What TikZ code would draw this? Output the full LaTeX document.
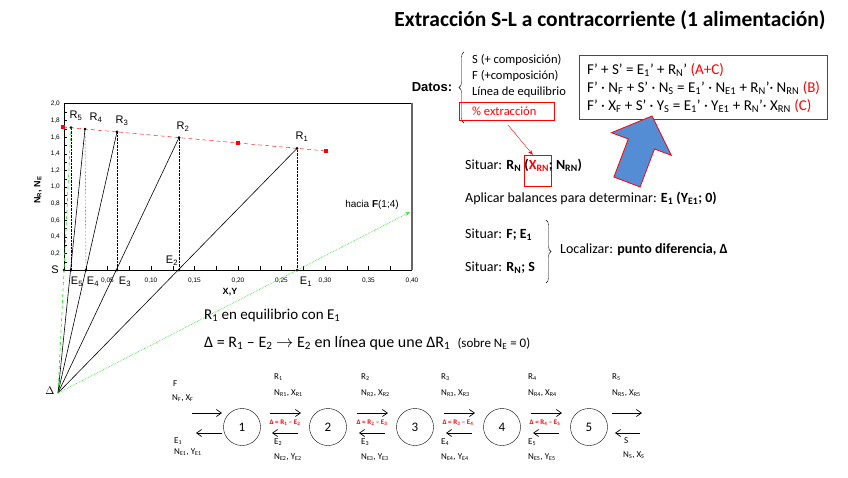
\documentclass[tikz,border=0pt]{standalone}
\usepackage{fontspec}
\setmainfont{Carlito}
\newfontfamily\arialf{Liberation Sans}
\usetikzlibrary{arrows.meta,decorations.pathreplacing}
\newcommand\sbs[1]{\textsubscript{#1}}
\definecolor{mygreen}{RGB}{60,225,60}
\definecolor{myblue}{RGB}{84,141,212}
\begin{document}
\begin{tikzpicture}[x=1pt,y=-1pt,
  lab/.style={inner sep=0pt,anchor=west},
  plab/.style={inner sep=0pt,font=\arialf\fontsize{11}{12}\selectfont},
  tick/.style={font=\arialf\fontsize{6.5}{7}\selectfont,inner sep=0pt},
  dot/.style={circle,fill=black,inner sep=0pt,minimum size=3pt},
  rsq/.style={fill=red,inner sep=0pt,minimum size=4pt},
  txt/.style={inner sep=0pt,anchor=west,font=\fontsize{14}{16}\selectfont},
  dtx/.style={inner sep=0pt,anchor=west,font=\fontsize{12.5}{14}\selectfont},
  eqt/.style={inner sep=0pt,anchor=west,font=\fontsize{15}{17}\selectfont},
  stg/.style={circle,draw,minimum size=37pt,inner sep=0pt,font=\fontsize{13}{14}\selectfont},
  slab/.style={inner sep=0pt,anchor=west,font=\fontsize{9}{10}\selectfont},
  dlab/.style={inner sep=0pt,text=red,font=\bfseries\fontsize{7}{8}\selectfont},
  flow/.style={-{Straight Barb[length=5pt,width=7pt]},line width=0.7pt},
  brc/.style={decorate,decoration={brace,amplitude=5pt}}
]
\useasboundingbox (0,0) rectangle (848,477);

% ---------- plot ----------
\draw[line width=0.8pt] (64,103) -- (412,103);
\draw[line width=1.2pt,black!60] (412,103) -- (412,270);
\draw[line width=0.8pt] (64,103) -- (64,270) -- (412,270);
\foreach \i in {1,...,15} \draw (64+\i*21.75,270) -- ++(0,-4);
\foreach \i in {1,...,19} \draw (64,270-\i*8.3) -- ++(3,0);
\foreach \v/\t in {0.2/{0,2},0.4/{0,4},0.6/{0,6},0.8/{0,8},1.0/{1,0},1.2/{1,2},1.4/{1,4},1.6/{1,6},1.8/{1,8},2.0/{2,0}}
  \node[tick,anchor=east] at (60,270-83*\v) {\t};
\foreach \v/\t in {0.05/{0,05},0.10/{0,10},0.15/{0,15},0.20/{0,20},0.25/{0,25},0.30/{0,30},0.35/{0,35},0.40/{0,40}}
  \node[tick] at (64+870*\v,281) {\t};
\node[plab,rotate=90,font=\arialf\bfseries\fontsize{9}{10}\selectfont] (yax) at (38,190) {N\sbs{R}, N\sbs{E}};
\node[plab,font=\arialf\bfseries\fontsize{9}{10}\selectfont] (xax) at (230,292) {X,Y};

% equilibrium (raffinate) line
\draw[red,dash pattern=on 4pt off 3pt] (63,127) -- (326,151);
\node[rsq] (q1) at (63,127) {};
\node[rsq] (q2) at (238,143) {};
\node[rsq] (q3) at (326,151) {};

% points
\coordinate (D) at (58,393);
\node[dot] (R5) at (71,127.7) {};
\node[dot] (R4) at (85,129) {};
\node[dot] (R3) at (117,131.9) {};
\node[dot] (R2) at (179,137.6) {};
\node[dot] (R1) at (297,148.4) {};
\node[dot] (S) at (64,270) {};
\node[dot] (E5) at (71,270) {};
\node[dot] (E4) at (86,270) {};
\node[dot] (E3) at (117,270) {};
\node[dot] (E2) at (179,270) {};
\node[dot] (E1) at (297,270) {};
\coordinate (F) at (410,212);

\foreach \r/\e in {R5/E5,R4/E4,R3/E3,R2/E2,R1/E1}
  \draw[densely dotted] (\r.center) -- (\e.center);
\foreach \r in {R4,R3,R2,R1}
  \draw[line width=0.6pt] (D) -- (\r.center);
\draw[mygreen,dashed,line width=0.7pt] (D) -- (R5.center);
\draw[mygreen,densely dotted,line width=0.7pt,-{Stealth[length=5pt]}] (D) -- (F);

\node[plab] (lR5) at (76,116) {R\sbs{5}};
\node[plab] (lR4) at (96,118) {R\sbs{4}};
\node[plab] (lR3) at (122,121) {R\sbs{3}};
\node[plab] (lR2) at (183,127) {R\sbs{2}};
\node[plab] (lR1) at (302,137) {R\sbs{1}};
\node[plab] (lE5) at (77,282) {E\sbs{5}};
\node[plab] (lE4) at (93,282) {E\sbs{4}};
\node[plab] (lE3) at (125,282) {E\sbs{3}};
\node[plab] (lE2) at (172,261) {E\sbs{2}};
\node[plab] (lE1) at (306,282) {E\sbs{1}};
\node[plab] (lS) at (55,270) {S};
\node[plab] (lD) at (50,391) {$\Delta$};
\node[plab,font=\arialf\fontsize{10}{12}\selectfont] (lF) at (372,205) {hacia \textbf{F}(1;4)};

% ---------- title ----------
\node[inner sep=0pt,font=\bfseries\fontsize{21.5}{24}\selectfont] (title) at (610,20) {Extracción S-L a contracorriente (1 alimentación)};

% ---------- datos ----------
\node[inner sep=0pt,font=\arialf\bfseries\fontsize{13}{14}\selectfont] (datos) at (432,87) {Datos:};
\draw[brc] (464,123) -- (464,52);
\node[dtx] (d1) at (472,60) {S (+ composición)};
\node[dtx] (d2) at (472,76) {F (+composición)};
\node[dtx] (d3) at (472,92) {Línea de equilibrio};
\node[dtx,text=red] (d4) at (472,111) {\% extracción};
\draw[red] (459,102) rectangle (554,120);
\coordinate (ra) at (508,125);
\node[draw=red,inner sep=0pt,minimum width=27pt,minimum height=31pt] (xbox) at (537.5,170.5) {};
\draw[red,-{Stealth[length=5pt]}] (ra) -- ([xshift=9pt]xbox.north west);

% ---------- equations ----------
\node[draw=red,inner sep=0pt,minimum width=248pt,minimum height=64pt] (eqbox) at (703,87) {};
\node[eqt] (eq1) at (587,70) {F’ + S’ = E\sbs{1}’ + R\sbs{N}’ {\color{red}(A+C)}};
\node[eqt] (eq2) at (587,88) {F’ · N\sbs{F} + S’ · N\sbs{S} = E\sbs{1}’ · N\sbs{E1} + R\sbs{N}’· N\sbs{RN} {\color{red}(B)}};
\node[eqt] (eq3) at (587,106) {F’ · X\sbs{F} + S’ · Y\sbs{S} = E\sbs{1}’ · Y\sbs{E1} + R\sbs{N}’· X\sbs{RN} {\color{red}(C)}};

% blue arrow
\draw[red,fill=myblue,line width=0.8pt] (613.9,177) -- (628.3,139) -- (611.5,132.7) -- (652,116) -- (671.3,155.3) -- (654.5,149) -- (640.1,187) -- cycle;

% ---------- situar ----------
\node[txt] (s1) at (465,165) {Situar: \textbf{R\sbs{N}} \textbf{(}{\color{red}\textbf{X\sbs{RN}}}\textbf{; N\sbs{RN})}};
\node[txt] (s2) at (465,198) {Aplicar balances para determinar: \textbf{E\sbs{1} (Y\sbs{E1}; 0)}};
\node[txt] (s3) at (465,235) {Situar: \textbf{F; E\sbs{1}}};
\node[txt] (s4) at (465,268) {Situar: \textbf{R\sbs{N}; S}};
\draw[brc] (546,220) -- (546,283);
\node[txt] (s5) at (560,250) {Localizar: \textbf{punto diferencia, Δ}};

% ---------- middle ----------
\node[txt,font=\fontsize{15}{17}\selectfont] (m1) at (204,315) {R\sbs{1} en equilibrio con E\sbs{1}};
\node[txt,font=\fontsize{16}{18}\selectfont] (m2) at (204,343) {Δ = R\sbs{1} – E\sbs{2} $\rightarrow$ E\sbs{2} en línea que une ΔR\sbs{1}\ \ {\fontsize{13}{15}\selectfont(sobre N\sbs{E} = 0)}};

% ---------- stages ----------
\node[stg] (c1) at (242,427) {1};
\node[stg] (c2) at (328,427) {2};
\node[stg] (c3) at (415,427) {3};
\node[stg] (c4) at (502,427) {4};
\node[stg] (c5) at (589,427) {5};

\coordinate (a0s) at (192,413); \coordinate (a0e) at (222,413);
\coordinate (b0s) at (222,433); \coordinate (b0e) at (196,433);
\draw[flow] (a0s) -- (a0e);
\draw[flow] (b0s) -- (b0e);
\foreach \x/\n in {270/1,357/2,444/3,531/4}{
  \draw[flow] (\x,413) -- (\x+31,413);
  \draw[flow] (\x+28,433) -- (\x+2,433);
}
\coordinate (a6s) at (612,413); \coordinate (a6e) at (642,413);
\coordinate (b6s) at (640,433); \coordinate (b6e) at (615,433);
\draw[flow] (a6s) -- (a6e);
\draw[flow] (b6s) -- (b6e);

\node[dlab] (d12) at (285,423) {Δ = R\sbs{1} – E\sbs{2}};
\node[dlab] (d23) at (372,423) {Δ = R\sbs{2} – E\sbs{3}};
\node[dlab] (d34) at (458,423) {Δ = R\sbs{3} – E\sbs{4}};
\node[dlab] (d45) at (545,423) {Δ = R\sbs{4} – E\sbs{5}};

\node[slab] (tF) at (173,384) {F};
\node[slab] (tF2) at (172,398) {N\sbs{F}, X\sbs{F}};
\node[slab] (tE1) at (174,441) {E\sbs{1}};
\node[slab] (tE12) at (174,452) {N\sbs{E1}, Y\sbs{E1}};
\foreach \x/\i/\j in {274/1/2,361/2/3,441/3/4,528/4/5}{
  \node[slab] at (\x,377) {R\sbs{\i}};
  \node[slab] at (\x,393) {N\sbs{R\i}, X\sbs{R\i}};
  \node[slab] at (\x,442) {E\sbs{\j}};
  \node[slab] at (\x,457) {N\sbs{E\j}, Y\sbs{E\j}};
}
\node[slab] (tR5) at (612,377) {R\sbs{5}};
\node[slab] (tR52) at (612,393) {N\sbs{R5}, X\sbs{R5}};
\node[slab] (tS) at (624,441) {S};
\node[slab] (tS2) at (623,455) {N\sbs{S}, X\sbs{S}};
\end{tikzpicture}
\end{document}
